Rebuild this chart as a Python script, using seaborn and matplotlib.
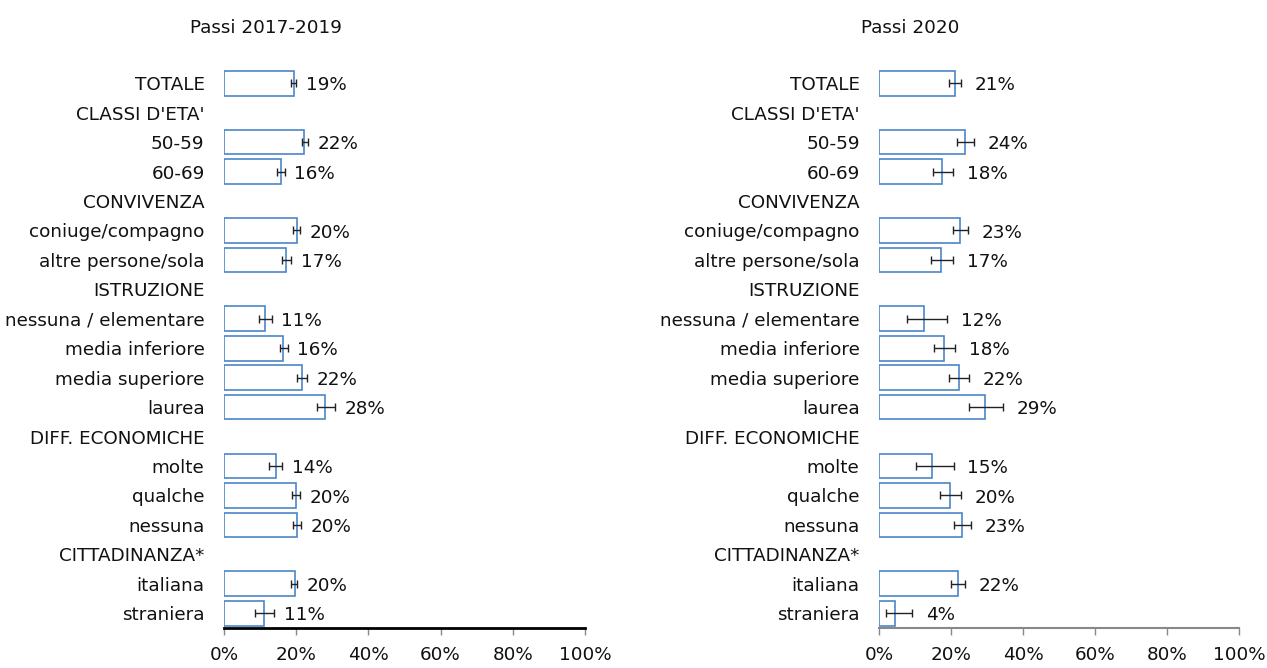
import pandas as pd
import matplotlib.pyplot as plt
import seaborn as sns

# row order, group headers have no bar
rows = ["TOTALE", "CLASSI D'ETA'", "50-59", "60-69", "CONVIVENZA",
        "coniuge/compagno", "altre persone/sola", "ISTRUZIONE",
        "nessuna / elementare", "media inferiore", "media superiore", "laurea",
        "DIFF. ECONOMICHE", "molte", "qualche", "nessuna",
        "CITTADINANZA*", "italiana", "straniera"]

cats = ["TOTALE", "50-59", "60-69", "coniuge/compagno", "altre persone/sola",
        "nessuna / elementare", "media inferiore", "media superiore", "laurea",
        "molte", "qualche", "nessuna", "italiana", "straniera"]

# Passi 2017-2019
val_1719 = [19.3, 22.2, 15.7, 20.1, 17.3, 11.4, 16.4, 21.7, 28.1, 14.3, 19.9, 20.2, 19.6, 11.1]
lo_1719 = [18.5, 21.5, 14.6, 19.2, 16.1, 9.8, 15.4, 20.3, 25.7, 12.6, 18.8, 19.1, 18.6, 8.7]
hi_1719 = [20.0, 23.3, 16.8, 21.0, 18.6, 13.2, 17.6, 22.9, 30.8, 16.1, 21.0, 21.2, 20.3, 13.9]

# Passi 2020
val_2020 = [21.0, 24.0, 17.6, 22.6, 17.3, 12.4, 18.0, 22.1, 29.4, 14.8, 19.8, 23.0, 21.8, 4.4]
lo_2020 = [19.3, 21.6, 15.1, 20.5, 14.4, 7.9, 15.3, 19.4, 24.9, 10.2, 16.8, 20.7, 20.1, 2.0]
hi_2020 = [22.8, 26.4, 20.5, 24.7, 20.5, 18.8, 21.2, 24.9, 34.5, 20.7, 22.8, 25.6, 23.9, 9.2]

ticks = [0, 20, 40, 60, 80, 100]
FS = 13.2

sns.set_theme(style="white")
plt.rcParams["font.family"] = ["DejaVu Sans"]

fig = plt.figure(figsize=(12.67, 6.68), dpi=100)
ax1 = fig.add_axes([0.1768, 0.0599, 0.2849, 0.8376])
ax2 = fig.add_axes([0.6938, 0.0599, 0.2841, 0.8376])


def panel(ax, vals, lo, hi, spine_col, spine_w, lab_off):
    df = pd.DataFrame({"cat": cats, "val": vals})
    sns.barplot(data=df, x="val", y="cat", order=rows, orient="h",
                errorbar=None, width=0.84, facecolor="white",
                edgecolor="#4a86c8", linewidth=1.2, ax=ax)
    pos = [rows.index(c) for c in cats]
    err = [[v - l for v, l in zip(vals, lo)], [h - v for v, h in zip(vals, hi)]]
    ax.errorbar(vals, pos, xerr=err, fmt="none", ecolor="#222222",
                elinewidth=1, capsize=3, capthick=1)
    for v, h, p in zip(vals, hi, pos):
        ax.annotate(f"{round(v)}%", (h, p), xytext=(lab_off, -1.5),
                    textcoords="offset points", va="center", ha="left",
                    fontsize=FS, color="#111111")
    ax.set_xlim(0, 100)
    ax.set_ylim(len(rows) - 0.5, -0.5)
    ax.set_xticks(ticks)
    ax.set_xticklabels([f"{t}%" for t in ticks], fontsize=FS, color="#111111")
    ax.set_yticks(range(len(rows)))
    ax.set_yticklabels(rows, fontsize=FS, color="#111111")
    ax.set_xlabel("")
    ax.set_ylabel("")
    ax.tick_params(axis="y", length=0, pad=14)
    ax.tick_params(axis="x", direction="out", length=5, width=1,
                   color="#888888", pad=8, bottom=True)
    for s in ["top", "right", "left"]:
        ax.spines[s].set_visible(False)
    ax.spines["bottom"].set_color(spine_col)
    ax.spines["bottom"].set_linewidth(spine_w)


panel(ax1, val_1719, lo_1719, hi_1719, "black", 2, 7)
panel(ax2, val_2020, lo_2020, hi_2020, "#888888", 1.5, 10)

fig.text(0.21, 0.958, "Passi 2017-2019", ha="center", va="center", fontsize=FS, color="#111111")
fig.text(0.718, 0.958, "Passi 2020", ha="center", va="center", fontsize=FS, color="#111111")

fig.savefig("out.png", dpi=100, facecolor="white")
